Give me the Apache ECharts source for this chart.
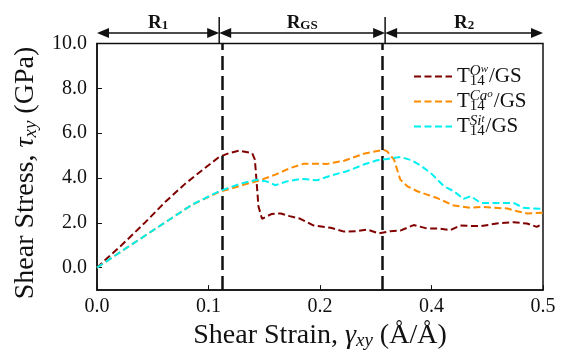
<!DOCTYPE html>
<html>
<head>
<meta charset="utf-8">
<script src="https://cdn.jsdelivr.net/npm/echarts@6/dist/echarts.min.js"></script>
<style>
html,body{margin:0;padding:0;background:#fff;}
#chart{width:564px;height:355px;}
</style>
</head>
<body>
<div id="chart"></div>
<script>
// ---- data ----
var seriesNames = ['Ow', 'Cao', 'Sit'];
var strainOw = [0, 0.008, 0.028, 0.054, 0.077, 0.099, 0.118, 0.137, 0.148, 0.159, 0.174, 0.177, 0.181, 0.185, 0.196, 0.206, 0.216, 0.228, 0.243, 0.262, 0.277, 0.291, 0.303, 0.316, 0.329, 0.340, 0.355, 0.370, 0.383, 0.396, 0.407, 0.430, 0.448, 0.467, 0.482, 0.493, 0.500];
var stressOw = [0, 0.30, 1.02, 2.02, 2.95, 3.75, 4.35, 4.94, 5.11, 5.22, 5.11, 4.82, 2.74, 2.18, 2.40, 2.42, 2.30, 2.18, 1.88, 1.78, 1.61, 1.63, 1.70, 1.53, 1.63, 1.65, 1.90, 1.75, 1.75, 1.67, 1.88, 1.85, 1.97, 2.03, 1.97, 1.82, 1.97];
var strainCa = [0, 0.036, 0.073, 0.107, 0.137, 0.149, 0.166, 0.179, 0.200, 0.217, 0.232, 0.258, 0.277, 0.299, 0.321, 0.325, 0.333, 0.340, 0.348, 0.359, 0.370, 0.381, 0.400, 0.419, 0.430, 0.460, 0.471, 0.482, 0.500];
var stressCa = [0, 0.96, 1.93, 2.82, 3.38, 3.51, 3.72, 3.85, 4.15, 4.45, 4.64, 4.63, 4.77, 5.08, 5.26, 5.20, 4.82, 3.93, 3.63, 3.41, 3.26, 3.11, 2.77, 2.67, 2.71, 2.64, 2.52, 2.42, 2.45];
var strainSi = [0, 0.036, 0.073, 0.107, 0.137, 0.161, 0.179, 0.190, 0.200, 0.213, 0.228, 0.247, 0.262, 0.280, 0.299, 0.314, 0.325, 0.340, 0.353, 0.363, 0.374, 0.389, 0.400, 0.411, 0.419, 0.430, 0.467, 0.478, 0.500];
var stressSi = [0, 0.96, 1.93, 2.82, 3.41, 3.75, 3.92, 3.85, 3.68, 3.85, 3.96, 3.90, 4.11, 4.30, 4.60, 4.79, 4.85, 4.94, 4.79, 4.55, 4.23, 3.63, 3.41, 3.07, 3.19, 2.89, 2.89, 2.67, 2.62];
var regionBounds = [0.137, 0.323];
var xTicks = [0, 0.125, 0.25, 0.375, 0.5];
var xTickLabels = ['0.0', '0.1', '0.2', '0.4', '0.5'];
var yTicks = [0, 2, 4, 6, 8, 10];
var yTickLabels = ['0.0', '2.0', '4.0', '6.0', '8.0', '10.0'];
var regionLabels = ['{r|R}{s|1}', '{r|R}{s|GS}', '{r|R}{s|2}'];
var legendLabels = {
  Ow: '{t|T}{b|14}{p|O}{q|w}{n|/GS}',
  Cao: '{t|T}{b|14}{p|Ca}{q|o}{n|/GS}',
  Sit: '{t|T}{b|14}{p|Si}{q|t}{n|/GS}'
};

var FONT = 'Liberation Serif';
var TXT = '#111';
var colors = ['#800000', '#ff8c00', '#00f0f0'];

function pairs(xs, ys) { return xs.map(function (x, i) { return [x, ys[i]]; }); }

var chart = echarts.init(document.getElementById('chart'), null, {renderer: 'canvas'});

var dash = [7, 3.5];
var option = {
  animation: false,
  backgroundColor: '#fff',
  grid: {left: 97, right: 21, top: 43.5, bottom: 64.3, show: true, borderColor: '#111', borderWidth: 1.5, backgroundColor: 'transparent'},
  xAxis: {
    type: 'value', min: 0, max: 0.5,
    axisLine: {show: true, onZero: false, lineStyle: {color: '#111', width: 1.5}},
    axisTick: {show: true, inside: true, length: 5, customValues: xTicks, lineStyle: {color: '#111', width: 1}},
    axisLabel: {customValues: xTicks, margin: 7, fontFamily: FONT, fontSize: 20, color: TXT,
      formatter: function (v) { var i = xTicks.indexOf(v); return i >= 0 ? xTickLabels[i] : ''; }},
    splitLine: {show: false},
    name: 'Shear Strain, {g|γ}{sub|xy} (Å/Å)',
    nameLocation: 'middle', nameGap: 31,
    nameTextStyle: {fontFamily: FONT, fontSize: 28, color: TXT,
      rich: {g: {fontFamily: FONT, fontSize: 28, fontStyle: 'italic', color: TXT},
             sub: {fontFamily: FONT, fontSize: 19, fontStyle: 'italic', color: TXT, verticalAlign: 'bottom', lineHeight: 20}}}
  },
  yAxis: {
    type: 'value', min: -1, max: 10,
    axisLine: {show: true, onZero: false, lineStyle: {color: '#111', width: 1.5}},
    axisTick: {show: true, inside: true, length: 5, customValues: yTicks, lineStyle: {color: '#111', width: 1}},
    axisLabel: {customValues: yTicks, margin: 10, fontFamily: FONT, fontSize: 20, color: TXT,
      formatter: function (v) { var i = yTicks.indexOf(v); return i >= 0 ? yTickLabels[i] : ''; }},
    splitLine: {show: false}
  },
  legend: {
    orient: 'vertical', left: 408, top: 59, itemGap: 0, itemWidth: 38, itemHeight: 14,
    data: seriesNames,
    itemStyle: {opacity: 0},
    lineStyle: {opacity: 1},
    formatter: function (name) { return legendLabels[name]; },
    textStyle: {fontFamily: FONT, fontSize: 21, color: TXT, lineHeight: 25,
      rich: {
        t: {fontFamily: FONT, fontSize: 21, color: TXT},
        b: {fontFamily: FONT, fontSize: 15, color: TXT, width: 0, verticalAlign: 'bottom', lineHeight: 15},
        p: {fontFamily: FONT, fontSize: 15, fontStyle: 'italic', color: TXT, verticalAlign: 'top', lineHeight: 15},
        q: {fontFamily: FONT, fontSize: 11, fontStyle: 'italic', color: TXT, verticalAlign: 'top', lineHeight: 22},
        n: {fontFamily: FONT, fontSize: 21, color: TXT, padding: [0, 0, 0, 1]}
      }}
  },
  series: [
    {name: seriesNames[0], type: 'line', data: pairs(strainOw, stressOw), showSymbol: false, symbol: 'none',
     lineStyle: {color: colors[0], width: 2, type: dash}, itemStyle: {color: colors[0]}, z: 3,
     markLine: {silent: true, symbol: ['none', 'none'], label: {show: false},
       lineStyle: {color: '#111', width: 2.5, type: [14, 6]},
       data: regionBounds.map(function (b) { return {xAxis: b}; })}},
    {name: seriesNames[1], type: 'line', data: pairs(strainCa, stressCa), showSymbol: false, symbol: 'none',
     lineStyle: {color: colors[1], width: 2, type: dash}, itemStyle: {color: colors[1]}, z: 4},
    {name: seriesNames[2], type: 'line', data: pairs(strainSi, stressSi), showSymbol: false, symbol: 'none',
     lineStyle: {color: colors[2], width: 2, type: dash}, itemStyle: {color: colors[2]}, z: 5}
  ]
};
chart.setOption(option);

// ---- annotations placed through the axis scale ----
var xs = [0, regionBounds[0], regionBounds[1], 0.5].map(function (v) { return chart.convertToPixel({xAxisIndex: 0}, v); });
var yTop = chart.convertToPixel({yAxisIndex: 0}, 10);
var ay = 33, head = 12, hw = 5;
var g = [];
function arrow(x1, x2) {
  g.push({type: 'line', shape: {x1: x1 + head - 1, y1: ay, x2: x2 - head + 1, y2: ay}, style: {stroke: '#111', lineWidth: 1.5}, silent: true});
  g.push({type: 'polygon', shape: {points: [[x1, ay], [x1 + head, ay - hw], [x1 + head, ay + hw]]}, style: {fill: '#111'}, silent: true});
  g.push({type: 'polygon', shape: {points: [[x2, ay], [x2 - head, ay - hw], [x2 - head, ay + hw]]}, style: {fill: '#111'}, silent: true});
}
for (var i = 0; i < 3; i++) {
  arrow(xs[i], xs[i + 1]);
  g.push({type: 'text', x: (xs[i] + xs[i + 1]) / 2, y: 23, silent: true,
    style: {text: regionLabels[i], align: 'center', verticalAlign: 'middle',
      rich: {r: {fontFamily: FONT, fontSize: 19, fontWeight: 'bold', fill: TXT},
             s: {fontFamily: FONT, fontSize: 13, fontWeight: 'bold', fill: TXT, verticalAlign: 'bottom', lineHeight: 14}}}});
}
[xs[1], xs[2]].forEach(function (x) {
  g.push({type: 'line', shape: {x1: x, y1: 17, x2: x, y2: yTop}, style: {stroke: '#111', lineWidth: 1.5}, silent: true});
});
g.push({type: 'text', x: 26, y: 173, rotation: Math.PI / 2, silent: true,
  style: {text: 'Shear Stress, {g|τ}{sub|xy} (GPa)', align: 'center', verticalAlign: 'middle',
    font: '28px "' + FONT + '"', fill: TXT,
    rich: {g: {fontFamily: FONT, fontSize: 28, fontStyle: 'italic', fill: TXT},
           sub: {fontFamily: FONT, fontSize: 19, fontStyle: 'italic', fill: TXT, verticalAlign: 'bottom', lineHeight: 20}}}});
chart.setOption({graphic: g});
</script>
</body>
</html>
